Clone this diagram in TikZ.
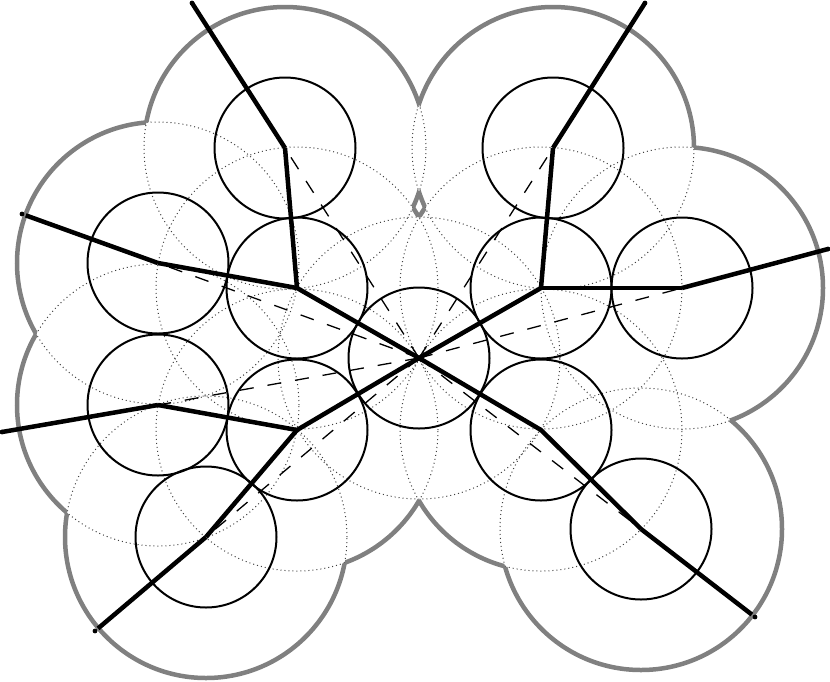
\documentclass[tikz,border=0pt]{standalone}
\begin{document}
\begin{tikzpicture}[x=1pt,y=1pt,
  bigdot/.style={draw=black!75, line width=1pt, dash pattern=on 1pt off 3pt},
  outline/.style={draw=black!50, line width=4.5pt},
  disc/.style={draw=black, line width=2pt},
  spoke/.style={draw=black, line width=1.3pt, dash pattern=on 14pt off 14pt},
  edge/.style={draw=black, line width=4.5pt, line join=round},
  tip/.style={fill=black}]
\useasboundingbox (0,0) rectangle (830,-681);
\foreach \n/\x/\y in {1/285/148, 2/553/148, 3/158/263, 4/297/288, 5/541/288, 6/682/288,
  7/419/358, 8/158/405, 9/297/430, 10/541/430, 11/206/537, 12/641/529}
  \coordinate (c\n) at (\x,-\y);
\foreach \n/\x/\y in {1/192/3, 2/645/3, 3/22/214, 6/828/249, 8/2/432, 11/95/631, 12/755/617}
  \coordinate (e\n) at (\x,-\y);
% dotted large circles
\foreach \n in {1,...,12} \draw[bigdot] (c\n) circle (141);
% grey outline of the union
\foreach \i in {1,...,12}{
  \begin{scope}
    \foreach \j in {1,...,12}{
      \ifnum\i=\j\relax\else
        \clip (-20,20) -- (850,20) -- (850,-700) -- (-20,-700) -- cycle (c\j) circle (141);
      \fi
    }
    \draw[outline] (c\i) circle (141);
  \end{scope}
}
% small circles
\foreach \n in {1,...,12} \draw[disc] (c\n) circle (70.5);
% dashed spokes
\foreach \n in {1,2,3,6,8,11,12} \draw[spoke] (c7) -- (c\n);
% thick tree
\draw[edge] (c1) -- (c4) -- (c7) -- (c5) -- (c2);
\draw[edge] (c3) -- (c4);
\draw[edge] (c5) -- (c6);
\draw[edge] (c8) -- (c9) -- (c7) -- (c10) -- (c12);
\draw[edge] (c9) -- (c11);
\foreach \n/\s in {1/0, 2/0, 3/4, 6/0, 8/0, 11/4, 12/4} {
  \draw[edge, shorten >=\s pt] (c\n) -- (e\n);
  \fill[tip] (e\n) circle (2.4);
}
\end{tikzpicture}
\end{document}
